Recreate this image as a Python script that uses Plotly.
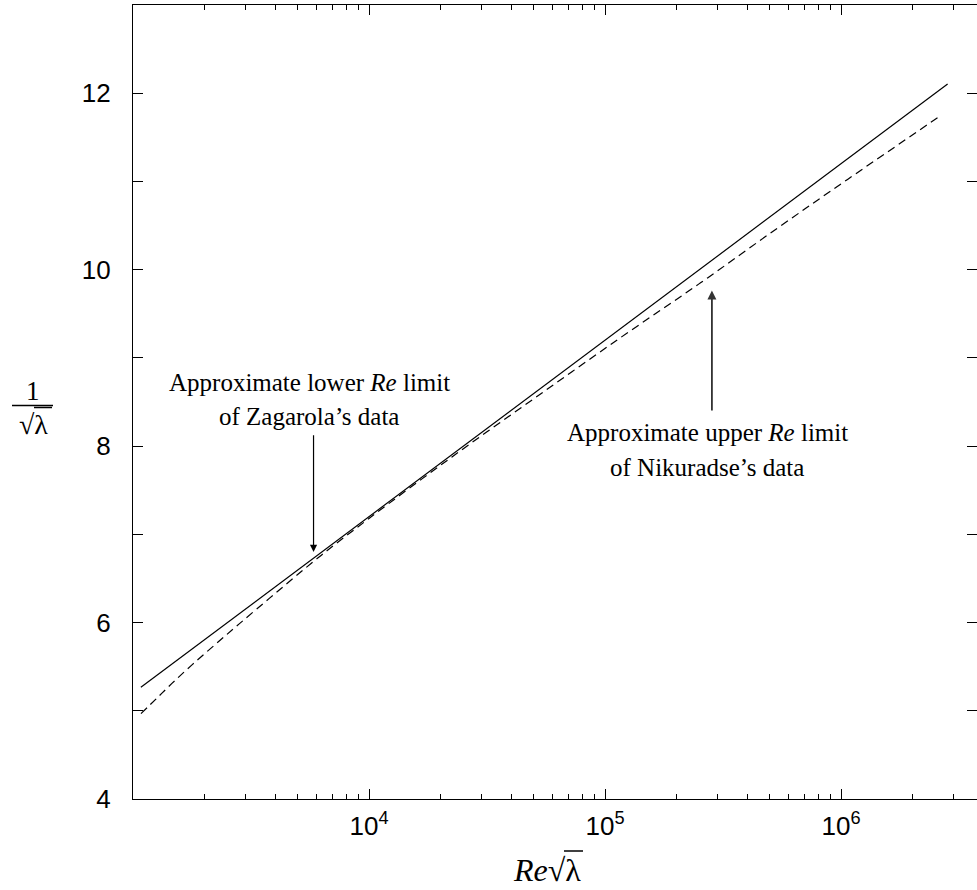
import plotly.graph_objects as go

# ---- data ----
solid_x = [1080, 2000, 5000, 1e4, 3e4, 1e5, 3e5, 1e6, 2.83e6]
solid_y = [5.267, 5.802, 6.598, 7.200, 8.154, 9.200, 10.154, 11.200, 12.104]

dash_x = [1081, 1259, 1462, 1778, 2239, 2818, 4009, 6026, 1e4, 22400, 50100,
          116000, 254000, 536000, 1.07e6, 2.65e6]
dash_y = [4.968, 5.14, 5.31, 5.52, 5.755, 5.985, 6.331, 6.725, 7.18, 7.875, 8.54,
          9.227, 9.851, 10.468, 11.026, 11.748]

x_major = [1e4, 1e5, 1e6]
x_major_text = ["10<sup>4</sup>", "10<sup>5</sup>", "10<sup>6</sup>"]
x_minor = [m * 10 ** e for e in (3, 4, 5) for m in range(2, 10)] + [2e6, 3e6]
y_major = [4, 6, 8, 10, 12]
y_minor = [5, 7, 9, 11]

# ---- layout geometry ----
W, H = 977, 890
L, R, T, B = 133, 0, 5, 91
PW, PH = W - L - R, H - T - B


def px(x):
    return (x - L) / PW


def py(y):
    return (H - B - y) / PH


fig = go.Figure()
fig.add_trace(go.Scatter(x=solid_x, y=solid_y, mode="lines",
                         line=dict(color="black", width=1.2), showlegend=False))
fig.add_trace(go.Scatter(x=dash_x, y=dash_y, mode="lines", line_shape="spline",
                         line=dict(color="black", width=1.2, dash="8px,5px"), showlegend=False))

tickfont = dict(family="Liberation Sans, Arial, sans-serif", size=26, color="black")
serif = "Liberation Serif, Times New Roman, serif"

fig.update_xaxes(type="log", range=[3, 3 + PW / 236.0], showgrid=False, zeroline=False,
                 showline=True, linecolor="black", linewidth=1.3, mirror="ticks",
                 ticks="inside", ticklen=10, tickwidth=1, tickcolor="black",
                 tickmode="array", tickvals=x_major, ticktext=x_major_text,
                 tickfont=tickfont, ticklabelstandoff=4,
                 minor=dict(ticks="inside", ticklen=5, tickwidth=1, tickcolor="black",
                            tickmode="array", tickvals=x_minor, showgrid=False))
fig.update_yaxes(range=[4, 13], showgrid=False, zeroline=False,
                 showline=True, linecolor="black", linewidth=1.3, mirror="ticks",
                 ticks="inside", ticklen=10, tickwidth=1, tickcolor="black",
                 tickmode="array", tickvals=y_major, ticktext=[str(v) for v in y_major],
                 tickfont=tickfont, ticklabelstandoff=16,
                 minor=dict(ticks="inside", ticklen=10, tickwidth=1, tickcolor="black",
                            tickmode="array", tickvals=y_minor, showgrid=False))

ann = []
txt = dict(family=serif, size=25, color="black")
ann.append(dict(xref="paper", yref="paper", x=px(309), y=py(382), text="Approximate lower <i>Re</i> limit",
                showarrow=False, font=txt, xanchor="center", yanchor="middle"))
ann.append(dict(xref="paper", yref="paper", x=px(309), y=py(416), text="of Zagarola’s data",
                showarrow=False, font=txt, xanchor="center", yanchor="middle"))
ann.append(dict(xref="paper", yref="paper", x=px(707), y=py(432), text="Approximate upper <i>Re</i> limit",
                showarrow=False, font=txt, xanchor="center", yanchor="middle"))
ann.append(dict(xref="paper", yref="paper", x=px(707), y=py(468), text="of Nikuradse’s data",
                showarrow=False, font=txt, xanchor="center", yanchor="middle"))
# arrows (x in log10 units on a log axis)
ann.append(dict(xref="x", yref="y", axref="x", ayref="y", x=3.765, y=6.80, ax=3.765, ay=8.14,
                text="", showarrow=True, arrowhead=2, arrowsize=1.2, arrowwidth=1.2, arrowcolor="black"))
ann.append(dict(xref="x", yref="y", axref="x", ayref="y", x=5.453, y=9.764, ax=5.453, ay=8.386,
                text="", showarrow=True, arrowhead=2, arrowsize=1.0, arrowwidth=1.8, arrowcolor="#333333"))
# y-axis title: 1 / sqrt(lambda)
ann.append(dict(xref="paper", yref="paper", x=px(33), y=py(391), text="1",
                showarrow=False, font=dict(family=serif, size=27, color="black"),
                xanchor="center", yanchor="middle"))
ann.append(dict(xref="paper", yref="paper", x=px(33), y=py(424), text="√λ",
                showarrow=False, font=dict(family=serif, size=28, color="black"),
                xanchor="center", yanchor="middle"))
# x-axis title
ann.append(dict(xref="paper", yref="paper", x=px(547), y=py(870), text="<i>Re</i>√λ",
                showarrow=False, font=dict(family=serif, size=32, color="black"),
                xanchor="center", yanchor="middle"))

shapes = [
    dict(type="line", xref="paper", yref="paper", x0=px(12), x1=px(53), y0=py(405.5), y1=py(405.5),
         line=dict(color="black", width=1.3)),
    dict(type="line", xref="paper", yref="paper", x0=px(34), x1=px(52), y0=py(407.5), y1=py(407.5),
         line=dict(color="black", width=1.5)),
    dict(type="line", xref="paper", yref="paper", x0=px(564), x1=px(583), y0=py(851), y1=py(851),
         line=dict(color="black", width=1.5)),
]

fig.update_layout(width=W, height=H, margin=dict(l=L, r=R, t=T, b=B),
                  plot_bgcolor="white", paper_bgcolor="white",
                  annotations=ann, shapes=shapes, showlegend=False)

fig.write_html("out.html")
